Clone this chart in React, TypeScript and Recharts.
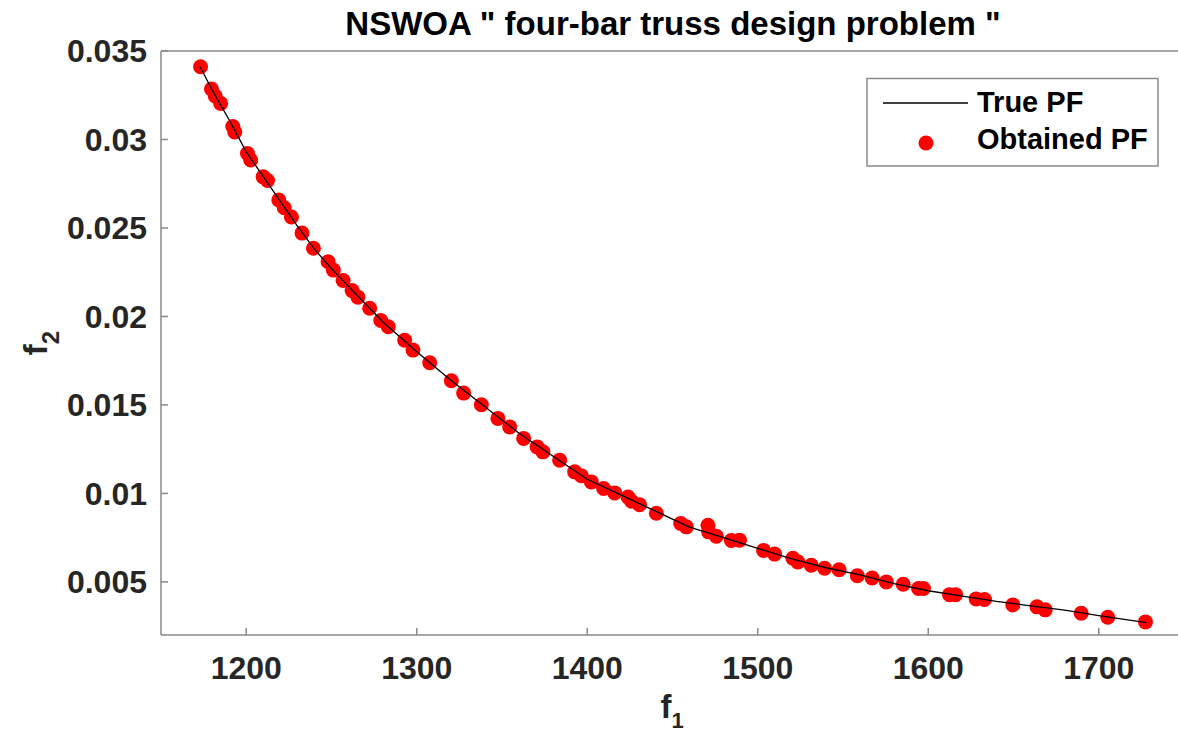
import { ComposedChart, Scatter, XAxis, YAxis } from 'recharts'

// obtained Pareto front
const obtainedF1 = [
  1173.2, 1179.6, 1181.8, 1185.0, 1192.1, 1193.3, 1200.7, 1202.6, 1209.9, 1212.5,
  1219.1, 1222.3, 1226.5, 1232.7, 1239.4, 1248.0, 1251.1, 1256.8, 1262.1, 1265.5,
  1272.4, 1278.9, 1283.3, 1292.9, 1297.8, 1307.6, 1320.3, 1327.5, 1337.9, 1347.6,
  1354.5, 1362.7, 1370.6, 1374.0, 1383.8, 1392.6, 1396.5, 1402.4, 1409.6, 1416.1,
  1423.9, 1426.0, 1430.7, 1440.5, 1454.8, 1458.1, 1470.8, 1471.2, 1475.7, 1484.5,
  1489.3, 1503.4, 1509.9, 1520.6, 1523.5, 1531.4, 1539.2, 1547.7, 1558.4, 1567.1,
  1575.4, 1585.3, 1594.3, 1597.2, 1612.5, 1616.0, 1628.1, 1633.0, 1649.6, 1663.8,
  1668.6, 1689.7, 1705.3, 1727.4,
]
const obtainedF2 = [
  0.03411, 0.03285, 0.03246, 0.03204, 0.03073, 0.03042, 0.02921, 0.02884, 0.02789, 0.02768,
  0.02658, 0.02614, 0.02562, 0.02471, 0.02385, 0.02309, 0.02262, 0.02203, 0.02146, 0.02109,
  0.02046, 0.01977, 0.01942, 0.01866, 0.0181, 0.01738, 0.01637, 0.01567, 0.01501, 0.01424,
  0.01376, 0.01311, 0.01263, 0.01235, 0.01188, 0.01122, 0.011, 0.01065, 0.01028, 0.01003,
  0.0098, 0.00956, 0.00936, 0.00888, 0.0083, 0.00811, 0.0082, 0.00783, 0.00758, 0.00734,
  0.00736, 0.00678, 0.00657, 0.00634, 0.00613, 0.00594, 0.00577, 0.00569, 0.00535, 0.00522,
  0.005, 0.00487, 0.00463, 0.00463, 0.00428, 0.00428, 0.00404, 0.00401, 0.0037, 0.00359,
  0.00342, 0.00323, 0.003, 0.00274,
]

// true Pareto front (the thin black curve)
const trueF1 = [
  1173, 1180, 1190, 1200, 1210, 1220, 1230, 1240, 1250, 1260, 1270, 1280, 1300, 1320,
  1340, 1360, 1380, 1400, 1420, 1440, 1460, 1480, 1500, 1520, 1540, 1560, 1580, 1600,
  1620, 1640, 1660, 1680, 1700, 1728,
]
const trueF2 = [
  0.0341, 0.0328, 0.0311, 0.0293, 0.0279, 0.0265, 0.0251, 0.0238, 0.0227, 0.0217, 0.0207, 0.0197, 0.018, 0.0164,
  0.0149, 0.0134, 0.0121, 0.0108, 0.0099, 0.009, 0.0081, 0.0075, 0.0069, 0.0063, 0.0058, 0.0054, 0.0049, 0.0045,
  0.0042, 0.0039, 0.00365, 0.0034, 0.0031, 0.0027,
]

const xTicks = [1200, 1300, 1400, 1500, 1600, 1700]
const yTicks = [0.005, 0.01, 0.015, 0.02, 0.025, 0.03, 0.035]

const obtained = obtainedF1.map((x, i) => ({ x, y: obtainedF2[i] }))
const truePF = trueF1.map((x, i) => ({ x, y: trueF2[i] }))

const FONT = '"Liberation Sans", Arial, Helvetica, sans-serif'
const AXIS = '#8a8a8a'
const TEXT = '#262626'

function RedDot(props: any) {
  return <circle cx={props.cx} cy={props.cy} r={7.5} fill="#ff0000" />
}

function NoDot() {
  return <g />
}

export default function App() {
  const tickStyle = { fontSize: 32, fontWeight: 700, fill: TEXT, fontFamily: FONT }
  return (
    <div style={{ position: 'fixed', left: 0, top: 0, width: 1178, height: 735, overflow: 'hidden', background: '#fff' }}>
      <ComposedChart width={1200} height={735} margin={{ top: 50, right: 15, bottom: 0, left: 0 }}>
        <XAxis xAxisId="b" type="number" dataKey="x" domain={[1150, 1750]} ticks={xTicks} height={100}
          orientation="bottom" stroke={AXIS} strokeWidth={1.5} tickSize={-7} tickMargin={28} tick={tickStyle} allowDataOverflow />
        <XAxis xAxisId="t" type="number" dataKey="x" domain={[1150, 1750]} ticks={xTicks} height={1}
          orientation="top" stroke={AXIS} strokeWidth={1.5} tickSize={-7} tick={false} allowDataOverflow />
        <YAxis yAxisId="l" type="number" dataKey="y" domain={[0.002, 0.035]} ticks={yTicks} width={161}
          stroke={AXIS} strokeWidth={1.5} tickSize={-7} tickMargin={21} tick={tickStyle} allowDataOverflow />
        <YAxis yAxisId="r" type="number" dataKey="y" domain={[0.002, 0.035]} ticks={yTicks} width={1}
          orientation="right" stroke={AXIS} strokeWidth={1.5} tickSize={-7} tick={false} allowDataOverflow />
        <Scatter xAxisId="b" yAxisId="l" name="Obtained PF" data={obtained} shape={RedDot} isAnimationActive={false} />
        <Scatter xAxisId="b" yAxisId="l" name="True PF" data={truePF} shape={NoDot} line={{ stroke: '#000', strokeWidth: 1.3 }}
          lineType="joint" isAnimationActive={false} />
      </ComposedChart>
      <svg width={1178} height={735} style={{ position: 'absolute', left: 0, top: 0, pointerEvents: 'none' }} fontFamily={FONT} fontWeight={700}>
        <text x={673} y={35} textAnchor="middle" fontSize={33} fill="#000">{'NSWOA " four-bar truss design problem "'}</text>
        <text x={672} y={718} textAnchor="middle" fontSize={33} fill={TEXT}>f<tspan fontSize={22} dy={10}>1</tspan></text>
        <text transform="translate(47,343) rotate(-90)" textAnchor="middle" fontSize={33} fill={TEXT}>f<tspan fontSize={24} dy={12}>2</tspan></text>
        <rect x={867} y={78.5} width={291} height={87.5} fill="#fff" stroke={AXIS} strokeWidth={1.5} />
        <line x1={883} y1={103} x2={968} y2={103} stroke="#000" strokeWidth={1.5} />
        <text x={977} y={112} fontSize={29} fill="#000">True PF</text>
        <circle cx={926} cy={143} r={7.5} fill="#ff0000" />
        <text x={977} y={149} fontSize={29} fill="#000">Obtained PF</text>
      </svg>
    </div>
  )
}
